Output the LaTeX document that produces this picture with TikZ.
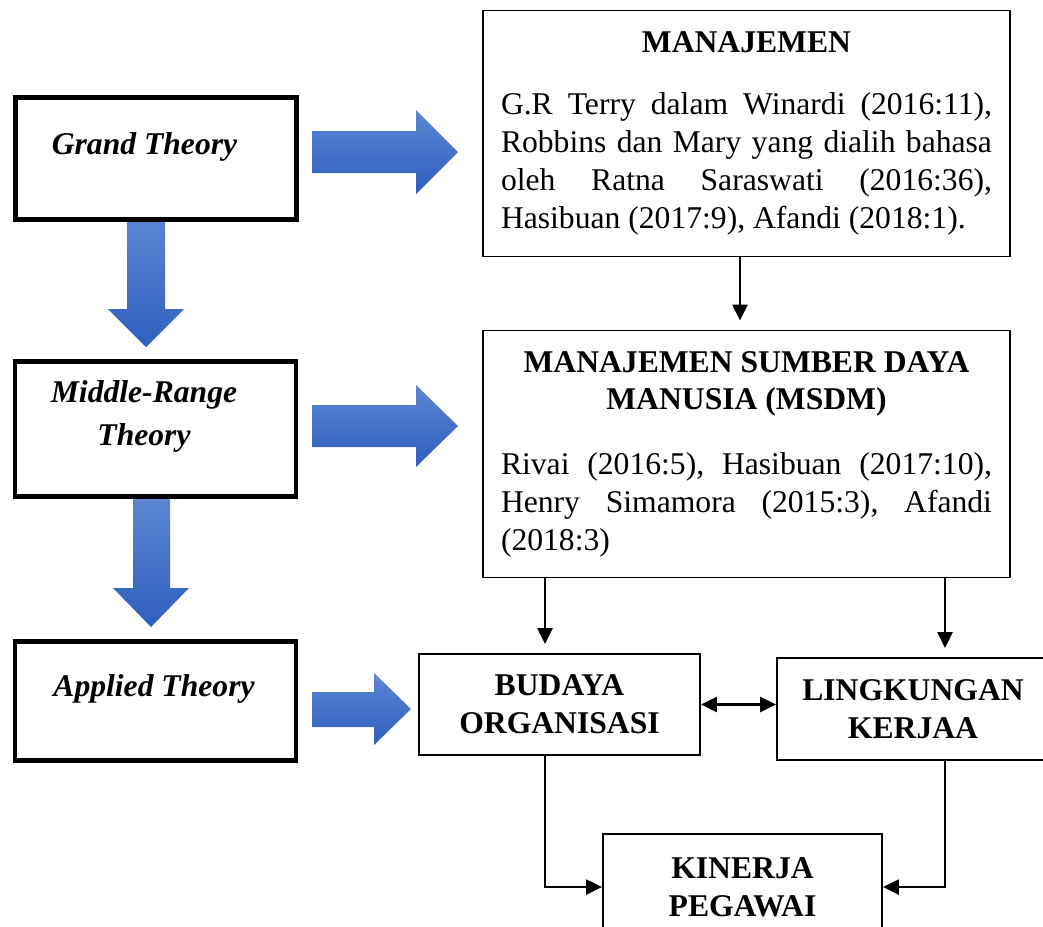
\documentclass[tikz,border=0pt]{standalone}
\usepackage{fontspec}
\setmainfont{Liberation Serif}
\usetikzlibrary{arrows.meta}

\frenchspacing
\tolerance=10000
\hbadness=10000
\hyphenpenalty=10000
\AtBeginDocument{\fontsize{18}{21.6}\selectfont}

\definecolor{arrowtop}{RGB}{92,134,212}
\definecolor{arrowbot}{RGB}{46,95,190}

\tikzset{
  >={Triangle[length=0.32cm,width=0.3cm]},
  theorybox/.style={draw, line width=2.8pt, minimum width=5.62cm, inner sep=0pt},
  theorytext/.style={font=\bfseries\itshape, align=center, inner sep=0pt},
  refbox/.style={draw, line width=1.1pt, text width=9.82cm, inner xsep=0.36cm,
    inner ysep=0pt, align=justify},
  varbox/.style={draw, line width=1.1pt, font=\bfseries, align=center, inner sep=0pt},
  conn/.style={line width=1.4pt, ->},
  bluearrow/.style={top color=arrowtop, bottom color=arrowbot, draw=none},
}

\begin{document}
\begin{tikzpicture}
  \useasboundingbox (0,0) rectangle (20.86,-18.52);

  % block arrows between the theory levels
  \path[bluearrow] (6.24,-2.62) -- (8.32,-2.62) -- (8.32,-2.20) -- (9.16,-3.04)
    -- (8.32,-3.88) -- (8.32,-3.46) -- (6.24,-3.46) -- cycle;
  \path[bluearrow] (6.24,-8.10) -- (8.32,-8.10) -- (8.32,-7.70) -- (9.16,-8.52)
    -- (8.32,-9.34) -- (8.32,-8.94) -- (6.24,-8.94) -- cycle;
  \path[bluearrow] (6.24,-13.84) -- (7.48,-13.84) -- (7.48,-13.46) -- (8.22,-14.18)
    -- (7.48,-14.90) -- (7.48,-14.54) -- (6.24,-14.54) -- cycle;
  \path[bluearrow] (2.54,-4.36) -- (3.30,-4.36) -- (3.30,-6.18) -- (3.68,-6.18)
    -- (2.92,-6.94) -- (2.16,-6.18) -- (2.54,-6.18) -- cycle;
  \path[bluearrow] (2.66,-9.96) -- (3.40,-9.96) -- (3.40,-11.76) -- (3.78,-11.76)
    -- (3.02,-12.54) -- (2.26,-11.76) -- (2.66,-11.76) -- cycle;

  % theory levels
  \node[theorybox, minimum height=2.44cm] (grand) at (3.12,-3.17) {};
  \node[theorybox, minimum height=2.70cm] (middle) at (3.11,-8.58) {};
  \node[theorybox, minimum height=2.38cm] (applied) at (3.11,-14.02) {};
  \node[theorytext] (grandtxt) at ([xshift=-0.23cm,yshift=0.23cm]grand.center) {Grand Theory};
  \node[theorytext] (middletxt) at ([xshift=-0.23cm,yshift=0.25cm]middle.center)
    {Middle-Range\\[3pt]Theory};
  \node[theorytext] (appliedtxt) at ([xshift=-0.03cm,yshift=0.24cm]applied.center) {Applied Theory};

  % references
  \node[refbox, minimum height=4.92cm] (mgmt) at (14.93,-2.67)
    {{\centering\bfseries MANAJEMEN\par}\vspace{14pt}%
     G.R Terry dalam Winardi (2016:11),\linebreak
     Robbins dan Mary yang dialih bahasa\linebreak
     oleh Ratna Saraswati (2016:36),\linebreak
     Hasibuan (2017:9), Afandi (2018:1).};
  \node[refbox, minimum height=4.94cm] (msdm) at (14.93,-9.08)
    {{\centering\bfseries MANAJEMEN SUMBER DAYA\par MANUSIA (MSDM)\par}\vspace{15pt}%
     Rivai (2016:5), Hasibuan (2017:10),\linebreak
     Henry Simamora (2015:3), Afandi\linebreak
     (2018:3)};

  % variables
  \node[varbox, minimum width=5.62cm, minimum height=2.02cm] (budaya) at (11.19,-14.09)
    {BUDAYA\\ORGANISASI};
  \node[varbox, minimum width=5.44cm, minimum height=2.04cm] (lingk) at (18.26,-14.18)
    {LINGKUNGAN\\KERJAA};
  \node[varbox, minimum width=5.58cm, minimum height=2.12cm] (kinerja) at (14.85,-17.74)
    {KINERJA\\PEGAWAI};

  % connectors
  \coordinate (mgmtout) at ([xshift=-0.13cm]mgmt.south);
  \draw[conn, shorten >=0.18cm] (mgmtout) -- (mgmtout |- msdm.north);
  \coordinate (budin) at ([xshift=-0.29cm]budaya.north);
  \draw[conn, shorten >=0.18cm] (budin |- msdm.south) -- (budin);
  \coordinate (lingin) at ([xshift=0.64cm]lingk.north);
  \draw[conn, shorten >=0.18cm] (lingin |- msdm.south) -- (lingin);
  \draw[conn, <->] (budaya.east) -- (budaya.east -| lingk.west);
  \coordinate (budout) at ([xshift=-0.29cm]budaya.south);
  \draw[conn] (budout) |- (kinerja.west);
  \coordinate (lingout) at ([xshift=0.64cm]lingk.south);
  \draw[conn] (lingout) |- (kinerja.east);
\end{tikzpicture}
\end{document}
